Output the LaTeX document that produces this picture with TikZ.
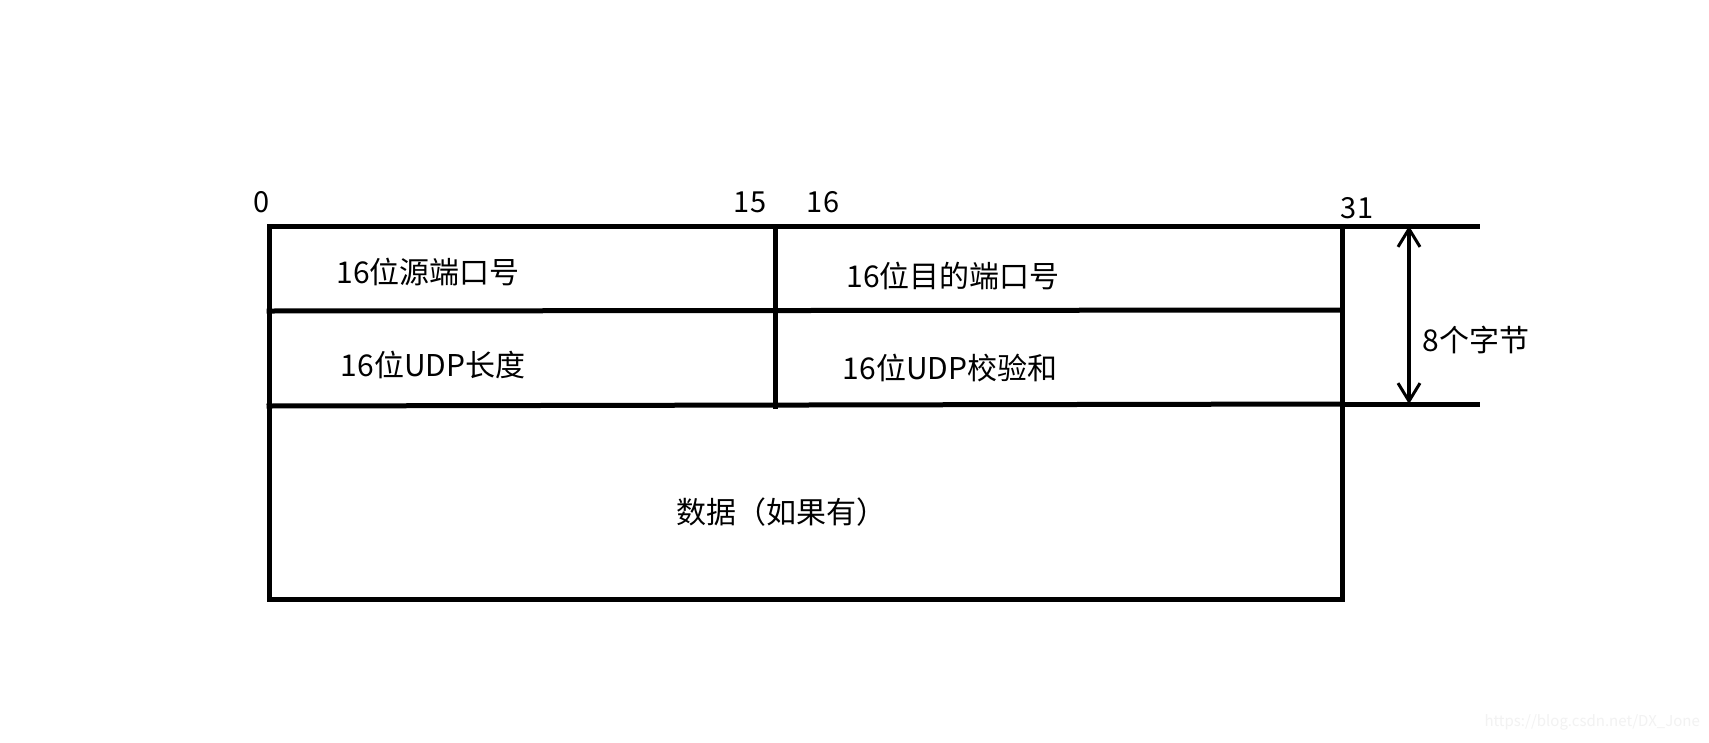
\documentclass[tikz,border=0pt]{standalone}
\usepackage{fontspec}
\setmainfont{Noto Sans CJK SC}
\usetikzlibrary{arrows.meta}
\begin{document}
\begin{tikzpicture}[x=1pt,y=-1pt,
  frame/.style={line width=5pt,line cap=rect},
  lbl/.style={inner sep=0pt,font=\fontsize{30}{34}\selectfont},
  bit/.style={inner sep=0pt,font=\fontsize{29}{34}\selectfont},
  dim/.style={line width=4.5pt,{Straight Barb[length=18pt,width=22pt,line width=3pt]}-{Straight Barb[length=18pt,width=22pt,line width=3pt]}}]
\useasboundingbox (0,0) rectangle (1709,742);
\fill[white] (0,0) rectangle (1709,742);
% corners and rows
\coordinate (tl) at (269,226);
\coordinate (tr) at (1342,226);
\coordinate (bl) at (269,599);
\coordinate (br) at (1342,599);
\coordinate (r1l) at (269,311);
\coordinate (r1r) at (1342,310);
\coordinate (r2l) at (269,406);
\coordinate (r2r) at (1342,404);
\coordinate (dt) at (775,226);
\coordinate (db) at (775,406);
\coordinate (ext1) at (1477,226);
\coordinate (ext2) at (1477,404);
\coordinate (a1) at (1409,226);
\coordinate (a2) at (1409,404);
% frame
\draw[frame] (tl) -- (tr) -- (br) -- (bl) -- cycle;
\draw[frame] (r1l) -- (r1r);
\draw[frame] (r2l) -- (r2r);
\draw[frame] (dt) -- (db);
\draw[frame] (tr) -- (ext1);
\draw[frame] (r2r) -- (ext2);
\draw[dim] (a1) -- (a2);
% bit labels
\node[bit] (b0) at (262,202) {0};
\node[bit] (b15) at (750,202) {15};
\node[bit] (b16) at (823,202) {16};
\node[bit] (b31) at (1357,208) {31};
% field labels
\node[lbl] (src) at (428,272) {16位源端口号};
\node[lbl] (dst) at (953,276) {16位目的端口号};
\node[lbl] (len) at (433,365) {16位UDP长度};
\node[lbl] (chk) at (950,368) {16位UDP校验和};
\node[lbl] (data) at (781,512) {数据（如果有）};
\node[lbl] (size) at (1476,340) {8个字节};
\node[inner sep=0pt,text=black!5,font=\fontsize{15}{18}\selectfont,anchor=east] (wm) at (1700,722) {https://blog.csdn.net/DX\_Jone};
\end{tikzpicture}
\end{document}
